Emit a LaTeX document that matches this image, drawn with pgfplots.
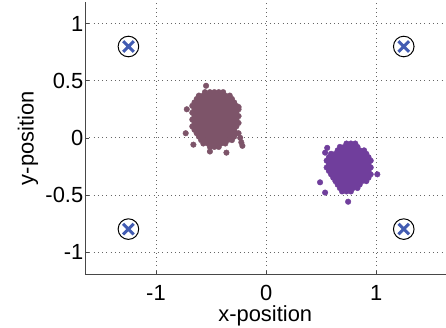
\documentclass[border=0pt]{standalone}
\usepackage{fontspec}
\setmainfont{Liberation Sans}
\usepackage{pgfplots}
\pgfplotsset{compat=1.18}
\definecolor{clusterA}{RGB}{125,84,105}
\definecolor{clusterB}{RGB}{112,62,156}
\definecolor{xblue}{RGB}{66,92,178}
\begin{document}
\begin{tikzpicture}
\begin{axis}[
  scale only axis, width=361bp, height=273bp,
  xmin=-1.645, xmax=1.63, ymin=-1.2, ymax=1.19,
  axis lines=left, axis line style={-, black!72, line width=0.8bp},
  xtick={-1,0,1}, xticklabels={-1,0,1},
  ytick={-1,-0.5,0,0.5,1}, yticklabels={-1,-0.5,0,0.5,1},
  tick align=inside, major tick length=4bp,
  tick style={black!72, line width=0.6bp},
  grid=major, major grid style={black!60, line width=0.7bp, dash pattern=on 0.7bp off 3.6bp},
  font=\fontsize{22}{26}\selectfont,
  xticklabel style={anchor=base, yshift=-26bp, inner sep=0pt},
  yticklabel style={anchor=east, inner sep=0pt, xshift=-1.5bp},
  xlabel={x-position}, ylabel={y-position},
  xlabel style={at={(axis description cs:0.5,0)}, anchor=base, inner sep=0pt, yshift=-47bp},
  ylabel style={at={(axis description cs:0,0.5)}, anchor=center, inner sep=0pt, yshift=57bp},
  clip=false,
]
% cluster 1 (mauve)
\addplot[only marks, mark=*, mark size=2.8bp, color=clusterA] table[row sep=\\] {
x y\\
-0.51 0.40\\ -0.47 0.40\\ -0.43 0.40\\ -0.39 0.40\\
-0.61 0.37\\ -0.57 0.37\\ -0.53 0.37\\ -0.49 0.37\\ -0.45 0.37\\ -0.41 0.37\\ -0.37 0.37\\ -0.33 0.37\\
-0.63 0.34\\ -0.59 0.34\\ -0.55 0.34\\ -0.51 0.34\\ -0.47 0.34\\ -0.43 0.34\\ -0.39 0.34\\ -0.35 0.34\\ -0.31 0.34\\
-0.65 0.31\\ -0.61 0.31\\ -0.57 0.31\\ -0.53 0.31\\ -0.49 0.31\\ -0.45 0.31\\ -0.41 0.31\\ -0.37 0.31\\ -0.33 0.31\\ -0.29 0.31\\
-0.67 0.28\\ -0.63 0.28\\ -0.59 0.28\\ -0.55 0.28\\ -0.51 0.28\\ -0.47 0.28\\ -0.43 0.28\\ -0.39 0.28\\ -0.35 0.28\\ -0.31 0.28\\ -0.27 0.28\\
-0.65 0.25\\ -0.61 0.25\\ -0.57 0.25\\ -0.53 0.25\\ -0.49 0.25\\ -0.45 0.25\\ -0.41 0.25\\ -0.37 0.25\\ -0.33 0.25\\ -0.29 0.25\\ -0.25 0.25\\
-0.67 0.22\\ -0.63 0.22\\ -0.59 0.22\\ -0.55 0.22\\ -0.51 0.22\\ -0.47 0.22\\ -0.43 0.22\\ -0.39 0.22\\ -0.35 0.22\\ -0.31 0.22\\ -0.27 0.22\\
-0.65 0.19\\ -0.61 0.19\\ -0.57 0.19\\ -0.53 0.19\\ -0.49 0.19\\ -0.45 0.19\\ -0.41 0.19\\ -0.37 0.19\\ -0.33 0.19\\ -0.29 0.19\\ -0.25 0.19\\
-0.67 0.16\\ -0.63 0.16\\ -0.59 0.16\\ -0.55 0.16\\ -0.51 0.16\\ -0.47 0.16\\ -0.43 0.16\\ -0.39 0.16\\ -0.35 0.16\\ -0.31 0.16\\ -0.27 0.16\\
-0.65 0.13\\ -0.61 0.13\\ -0.57 0.13\\ -0.53 0.13\\ -0.49 0.13\\ -0.45 0.13\\ -0.41 0.13\\ -0.37 0.13\\ -0.33 0.13\\ -0.29 0.13\\ -0.25 0.13\\
-0.67 0.10\\ -0.63 0.10\\ -0.59 0.10\\ -0.55 0.10\\ -0.51 0.10\\ -0.47 0.10\\ -0.43 0.10\\ -0.39 0.10\\ -0.35 0.10\\ -0.31 0.10\\ -0.27 0.10\\
-0.65 0.07\\ -0.61 0.07\\ -0.57 0.07\\ -0.53 0.07\\ -0.49 0.07\\ -0.45 0.07\\ -0.41 0.07\\ -0.37 0.07\\ -0.33 0.07\\ -0.29 0.07\\
-0.63 0.04\\ -0.59 0.04\\ -0.55 0.04\\ -0.51 0.04\\ -0.47 0.04\\ -0.43 0.04\\ -0.39 0.04\\ -0.35 0.04\\ -0.31 0.04\\ -0.27 0.04\\
-0.61 0.01\\ -0.57 0.01\\ -0.53 0.01\\ -0.49 0.01\\ -0.45 0.01\\ -0.41 0.01\\ -0.37 0.01\\ -0.33 0.01\\ -0.29 0.01\\
-0.59 -0.02\\ -0.55 -0.02\\ -0.51 -0.02\\ -0.47 -0.02\\ -0.43 -0.02\\ -0.39 -0.02\\ -0.35 -0.02\\ -0.31 -0.02\\
-0.57 -0.05\\ -0.53 -0.05\\ -0.49 -0.05\\ -0.45 -0.05\\ -0.41 -0.05\\ -0.37 -0.05\\
-0.51 -0.08\\ -0.47 -0.08\\ -0.43 -0.08\\
-0.545 0.456\\ -0.555 0.40\\ -0.72 0.25\\ -0.73 0.04\\ -0.66 -0.06\\ -0.36 -0.13\\ -0.51 -0.12\\ -0.25 0.27\\
-0.25 0.04\\ -0.235 0.00\\ -0.225 -0.04\\ -0.215 -0.07\\
};
% cluster 2 (purple)
\addplot[only marks, mark=*, mark size=2.8bp, color=clusterB] table[row sep=\\] {
x y\\
0.73 -0.05\\ 0.77 -0.05\\ 0.81 -0.05\\
0.67 -0.08\\ 0.71 -0.08\\ 0.75 -0.08\\ 0.79 -0.08\\ 0.83 -0.08\\
0.65 -0.11\\ 0.69 -0.11\\ 0.73 -0.11\\ 0.77 -0.11\\ 0.81 -0.11\\ 0.85 -0.11\\ 0.89 -0.11\\
0.59 -0.14\\ 0.63 -0.14\\ 0.67 -0.14\\ 0.71 -0.14\\ 0.75 -0.14\\ 0.79 -0.14\\ 0.83 -0.14\\ 0.87 -0.14\\ 0.91 -0.14\\
0.57 -0.17\\ 0.61 -0.17\\ 0.65 -0.17\\ 0.69 -0.17\\ 0.73 -0.17\\ 0.77 -0.17\\ 0.81 -0.17\\ 0.85 -0.17\\ 0.89 -0.17\\ 0.93 -0.17\\
0.55 -0.20\\ 0.59 -0.20\\ 0.63 -0.20\\ 0.67 -0.20\\ 0.71 -0.20\\ 0.75 -0.20\\ 0.79 -0.20\\ 0.83 -0.20\\ 0.87 -0.20\\ 0.91 -0.20\\ 0.95 -0.20\\
0.57 -0.23\\ 0.61 -0.23\\ 0.65 -0.23\\ 0.69 -0.23\\ 0.73 -0.23\\ 0.77 -0.23\\ 0.81 -0.23\\ 0.85 -0.23\\ 0.89 -0.23\\ 0.93 -0.23\\
0.55 -0.26\\ 0.59 -0.26\\ 0.63 -0.26\\ 0.67 -0.26\\ 0.71 -0.26\\ 0.75 -0.26\\ 0.79 -0.26\\ 0.83 -0.26\\ 0.87 -0.26\\ 0.91 -0.26\\ 0.95 -0.26\\
0.57 -0.29\\ 0.61 -0.29\\ 0.65 -0.29\\ 0.69 -0.29\\ 0.73 -0.29\\ 0.77 -0.29\\ 0.81 -0.29\\ 0.85 -0.29\\ 0.89 -0.29\\ 0.93 -0.29\\
0.59 -0.32\\ 0.63 -0.32\\ 0.67 -0.32\\ 0.71 -0.32\\ 0.75 -0.32\\ 0.79 -0.32\\ 0.83 -0.32\\ 0.87 -0.32\\ 0.91 -0.32\\ 0.95 -0.32\\
0.61 -0.35\\ 0.65 -0.35\\ 0.69 -0.35\\ 0.73 -0.35\\ 0.77 -0.35\\ 0.81 -0.35\\ 0.85 -0.35\\ 0.89 -0.35\\ 0.93 -0.35\\
0.63 -0.38\\ 0.67 -0.38\\ 0.71 -0.38\\ 0.75 -0.38\\ 0.79 -0.38\\ 0.83 -0.38\\ 0.87 -0.38\\ 0.91 -0.38\\
0.65 -0.41\\ 0.69 -0.41\\ 0.73 -0.41\\ 0.77 -0.41\\ 0.81 -0.41\\ 0.85 -0.41\\
0.67 -0.44\\ 0.71 -0.44\\ 0.75 -0.44\\ 0.79 -0.44\\ 0.83 -0.44\\
0.69 -0.47\\ 0.73 -0.47\\ 0.77 -0.47\\
0.555 -0.088\\ 0.536 -0.13\\ 0.49 -0.39\\ 0.536 -0.48\\ 0.745 -0.56\\ 1.01 -0.32\\
};
% anchors
\addplot[only marks, mark=o, mark size=10.3bp, mark options={line width=1bp}, color=black] coordinates {(-1.25,0.8) (1.25,0.8) (-1.25,-0.8) (1.25,-0.8)};
\addplot[only marks, mark=x, mark size=7.5bp, mark options={line width=3bp}, color=xblue] coordinates {(-1.25,0.8) (1.25,0.8) (-1.25,-0.8) (1.25,-0.8)};
\end{axis}
\path ([shift={(-85bp,-53bp)}]current axis.south west) rectangle ([shift={(0bp,2bp)}]current axis.north east);
\end{tikzpicture}
\end{document}
